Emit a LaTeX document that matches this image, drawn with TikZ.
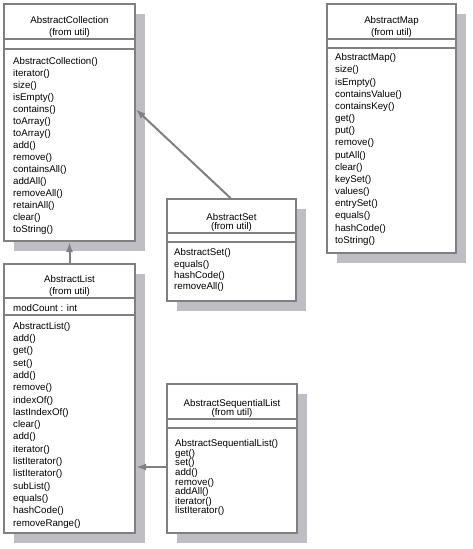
\documentclass[tikz,border=0pt]{standalone}
\usepackage{fontspec}
\newfontfamily\umlfont{Liberation Sans}
\usetikzlibrary{arrows.meta,shadows}
\definecolor{linegray}{RGB}{128,128,128}
\definecolor{shadegray}{RGB}{192,190,197}
\tikzset{
	classbox/.style={draw=linegray,line width=2pt,fill=white,rectangle,inner sep=0pt,outer sep=0pt,anchor=north west,
		drop shadow={shadow xshift=10pt,shadow yshift=-10pt,fill=shadegray,opacity=1}},
	sepline/.style={draw=linegray,line width=1.8pt},
	classname/.style={anchor=north,inner sep=0pt,align=center,font=\umlfont\fontsize{9.7pt}{#1}\selectfont},
	classname/.default=12pt,
	members/.style={anchor=north west,inner sep=0pt,align=left,font=\umlfont\fontsize{9.7pt}{#1}\selectfont},
	members/.default=12.2pt,
	inherit/.style={draw=linegray,line width=2pt,shorten >=1pt,shorten <=1pt,-{Latex[length=10pt,width=7pt]}}
}
\begin{document}
\begin{tikzpicture}[x=1pt,y=-1pt]
		\useasboundingbox (0,0) rectangle (472,549);
		
		% AbstractCollection
		\node[classbox,minimum width=131pt,minimum height=237pt] (coll) at (4,4) {};
		\draw[sepline] ([yshift=-35pt]coll.north west) -- ([yshift=-35pt]coll.north east);
		\draw[sepline] ([yshift=-45pt]coll.north west) -- ([yshift=-45pt]coll.north east);
		\node[classname] (collname) at ([yshift=-11.8pt]coll.north) {AbstractCollection\\(from util)};
		\node[members=12pt] (collops) at ([shift={(9pt,-53.5pt)}]coll.north west)
		{AbstractCollection()\\iterator()\\size()\\isEmpty()\\contains()\\toArray()\\toArray()\\add()\\remove()\\containsAll()\\addAll()\\removeAll()\\retainAll()\\clear()\\toString()};
		
		% AbstractList
		\node[classbox,minimum width=131pt,minimum height=269pt] (list) at (4,264) {};
		\draw[sepline] ([yshift=-34pt]list.north west) -- ([yshift=-34pt]list.north east);
		\draw[sepline] ([yshift=-51pt]list.north west) -- ([yshift=-51pt]list.north east);
		\node[classname] (listname) at ([yshift=-11pt]list.north) {AbstractList\\(from util)};
		\node[members] (listattr) at ([shift={(9pt,-40pt)}]list.north west) {modCount : int};
		\node[members=12.3pt] (listops) at ([shift={(9pt,-58pt)}]list.north west)
		{AbstractList()\\add()\\get()\\set()\\add()\\remove()\\indexOf()\\lastIndexOf()\\clear()\\add()\\iterator()\\listIterator()\\listIterator()\\subList()\\equals()\\hashCode()\\removeRange()};
		
		% AbstractMap
		\node[classbox,minimum width=129pt,minimum height=249pt] (map) at (327,4) {};
		\draw[sepline] ([yshift=-35pt]map.north west) -- ([yshift=-35pt]map.north east);
		\draw[sepline] ([yshift=-44pt]map.north west) -- ([yshift=-44pt]map.north east);
		\node[classname] (mapname) at ([yshift=-11.8pt]map.north) {AbstractMap\\(from util)};
		\node[members=12.17pt] (mapops) at ([shift={(8pt,-49.5pt)}]map.north west)
		{AbstractMap()\\size()\\isEmpty()\\containsValue()\\containsKey()\\get()\\put()\\remove()\\putAll()\\clear()\\keySet()\\values()\\entrySet()\\equals()\\hashCode()\\toString()};
		
		% AbstractSet
		\node[classbox,minimum width=129pt,minimum height=102pt] (set) at (167,199) {};
		\draw[sepline] ([yshift=-34pt]set.north west) -- ([yshift=-34pt]set.north east);
		\draw[sepline] ([yshift=-43pt]set.north west) -- ([yshift=-43pt]set.north east);
		\node[classname=9.5pt] (setname) at ([yshift=-14pt]set.north) {AbstractSet\\(from util)};
		\node[members=11.3pt] (setops) at ([shift={(7pt,-49.5pt)}]set.north west)
		{AbstractSet()\\equals()\\hashCode()\\removeAll()};
		
		% AbstractSequentialList
		\node[classbox,minimum width=130pt,minimum height=149pt] (seq) at (167,384) {};
		\draw[sepline] ([yshift=-35pt]seq.north west) -- ([yshift=-35pt]seq.north east);
		\draw[sepline] ([yshift=-44pt]seq.north west) -- ([yshift=-44pt]seq.north east);
		\node[classname=9.5pt] (seqname) at ([yshift=-15pt]seq.north) {AbstractSequentialList\\(from util)};
		\node[members=9.6pt] (seqops) at ([shift={(8pt,-55.5pt)}]seq.north west)
		{AbstractSequentialList()\\get()\\set()\\add()\\remove()\\addAll()\\iterator()\\listIterator()};
		
		% generalisations
		\draw[inherit] (list.north) -- (coll.south);
		\draw[inherit] (set.north) -- ([yshift=14pt]coll.east);
		\draw[inherit] ([yshift=-8.5pt]seq.west) -- ([yshift=-8.5pt]seq.west -| list.east);
	\end{tikzpicture}
\end{document}
